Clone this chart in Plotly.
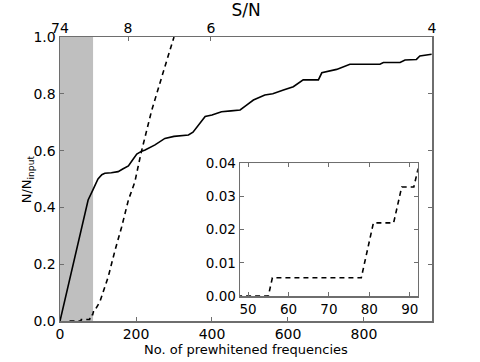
"""
Fraction of recovered frequencies vs number of prewhitened frequencies
"""

import plotly.graph_objs as go

# solid curve: N/N_input vs number of prewhitened frequencies
n_solid = [0, 74, 86, 100, 110, 118, 135, 153, 165, 180, 190, 202, 215, 224, 250,
           276, 300, 338, 350, 365, 382, 400, 425, 450, 474, 491, 509, 539, 560,
           588, 614, 640, 680, 689, 728, 763, 842, 851, 895, 908, 938, 947, 978]
frac_solid = [0.0, 0.426, 0.46, 0.50, 0.515, 0.52, 0.522, 0.526, 0.535, 0.546, 0.565,
              0.588, 0.598, 0.602, 0.62, 0.643, 0.65, 0.655, 0.665, 0.69, 0.72, 0.725,
              0.737, 0.74, 0.743, 0.76, 0.778, 0.796, 0.80, 0.813, 0.825, 0.849, 0.849,
              0.874, 0.886, 0.904, 0.904, 0.91, 0.91, 0.919, 0.921, 0.933, 0.939]

# dashed curve
n_dash = [25, 55, 56, 78, 79, 81, 86, 88, 91, 92, 105, 127, 145, 162, 180, 197,
          213, 241, 268, 300]
frac_dash = [0.0, 0.0, 0.0055, 0.0055, 0.011, 0.022, 0.022, 0.0328, 0.0328, 0.038,
             0.068, 0.156, 0.25, 0.33, 0.426, 0.49, 0.59, 0.74, 0.86, 1.0]

# shaded region end
shade_end = 87

# bottom ticks
n_ticks = [0, 200, 400, 600, 800]
inset_ticks = [50, 60, 70, 80, 90]

# S/N top axis
sn_pos = [0, 179, 397, 979]
sn_labels = ['74', '8', '6', '4']

x_range = [0, 979]
inset_x = [48, 92]
inset_y = [0, 0.04]

font = dict(family='DejaVu Sans', size=14, color='black')
axcol = '#6e6e6e'

solid = go.Scatter(x=n_solid, y=frac_solid, mode='lines',
                   line=dict(color='black', width=1.6), showlegend=False)
dashed = go.Scatter(x=n_dash, y=frac_dash, mode='lines',
                    line=dict(color='black', width=1.6, dash='5px,4px'), showlegend=False)
top_dummy = go.Scatter(x=[], y=[], xaxis='x2', yaxis='y', showlegend=False)
dashed_inset = go.Scatter(x=n_dash, y=frac_dash, mode='lines', xaxis='x3', yaxis='y3',
                          line=dict(color='black', width=1.6, dash='5px,4px'),
                          showlegend=False)

common = dict(ticks='inside', ticklen=4, tickcolor=axcol, showgrid=False,
              zeroline=False, automargin=False)

layout = go.Layout(
    width=480, height=362,
    margin=dict(l=60, r=48, t=37, b=41),
    paper_bgcolor='white', plot_bgcolor='white',
    font=font,
    xaxis=dict(range=x_range, tickvals=n_ticks, showline=True,
               linecolor=axcol, linewidth=1.5, mirror=True, **common),
    yaxis=dict(range=[0, 1], dtick=0.2, tickformat='.1f', showline=True,
               linecolor=axcol, linewidth=1.5, mirror='ticks', **common),
    xaxis2=dict(range=x_range, overlaying='x', side='top', tickvals=sn_pos,
                ticktext=sn_labels, showline=False,
                title=dict(text='S/N', standoff=0), **common),
    xaxis3=dict(domain=[0.484, 0.962], anchor='y3', range=inset_x, tickvals=inset_ticks,
                showline=True, linecolor=axcol, linewidth=1.5, mirror='ticks',
                tickfont=dict(size=13.5), **common),
    yaxis3=dict(domain=[0.088, 0.556], anchor='x3', range=inset_y, dtick=0.01,
                tickformat='.2f', showline=True, linecolor=axcol, linewidth=1.5,
                mirror='ticks', tickfont=dict(size=13.5), **common),
    annotations=[
        dict(text='No. of prewhitened frequencies', xref='paper', yref='paper',
             x=0.5, y=-0.1, xanchor='center', yanchor='middle', showarrow=False,
             font=dict(family='DejaVu Sans', size=13, color='black')),
        dict(text='N/N<sub>input</sub>', xref='paper', yref='paper', textangle=-90,
             x=-0.088, y=0.5, xanchor='center', yanchor='middle', showarrow=False,
             font=dict(family='DejaVu Sans', size=13, color='black')),
    ],
    shapes=[
        dict(type='rect', xref='x', yref='y domain', x0=0, x1=shade_end, y0=0, y1=1,
             fillcolor='#bfbfbf', line=dict(width=0), layer='below'),
        dict(type='rect', xref='x3', yref='y3 domain', x0=inset_x[0], x1=shade_end,
             y0=0, y1=1, fillcolor='#d9d9d9', line=dict(width=0), layer='below'),
    ],
)

fig = go.Figure(data=[solid, dashed, top_dummy, dashed_inset], layout=layout)
fig.write_html('out.html', config={'staticPlot': True},
               post_script="document.body.style.margin='0';")
